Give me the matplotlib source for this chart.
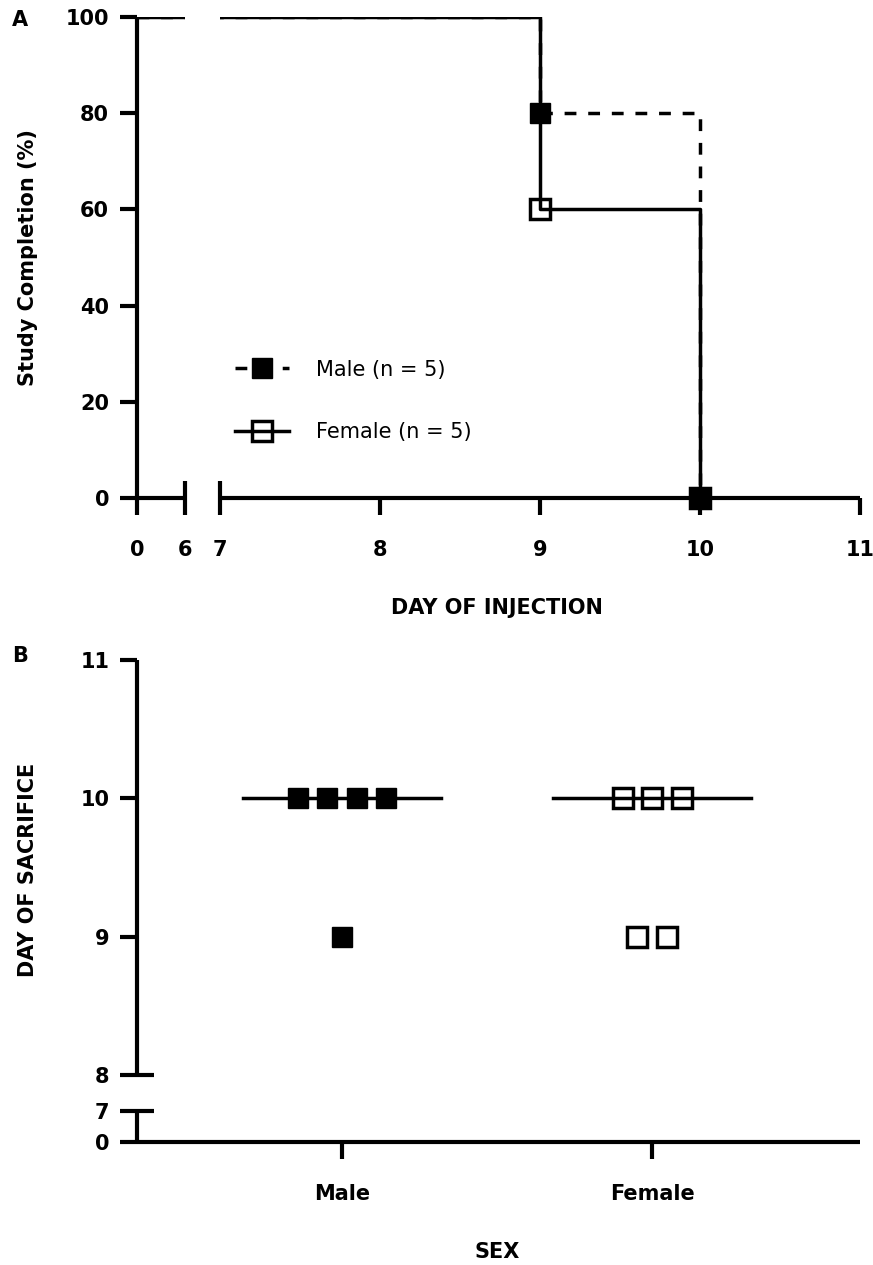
import numpy as np
import matplotlib
matplotlib.use("Agg")
import matplotlib.pyplot as plt
from matplotlib.lines import Line2D

plt.rcParams["font.family"] = ["DejaVu Sans"]

# day of sacrifice for every animal
male_days = [9, 10, 10, 10, 10]
female_days = [9, 9, 10, 10, 10]
groups = ["Male", "Female"]
legend_labels = ["Male (n = 5)", "Female (n = 5)"]

pct_ticks = [0, 20, 40, 60, 80, 100]
inj_ticks_low = [0, 6]
inj_ticks_high = [7, 8, 9, 10, 11]
sac_ticks_low = [0, 7]
sac_ticks_high = [8, 9, 10, 11]

W, H = 873, 1265
LW_AX = 3.0
LW = 2.5
MS = 14
FS = 15


def completion_curve(days):
    """Percent of animals still on study after each event day."""
    days = np.asarray(days)
    events = np.unique(days)
    x = np.concatenate([[0], events])
    y = [100.0] + [100.0 * np.sum(days > d) / len(days) for d in events]
    return x, np.array(y)


def box(left, top, right, bottom):
    return [left / W, 1 - bottom / H, (right - left) / W, (bottom - top) / H]


def style(ax, left=True, bottom=True):
    for s in ("top", "right"):
        ax.spines[s].set_visible(False)
    ax.spines["left"].set_visible(left)
    ax.spines["bottom"].set_visible(bottom)
    for s in ("left", "bottom"):
        ax.spines[s].set_linewidth(LW_AX)
        ax.spines[s].set_capstyle("butt")
    ax.tick_params(which="major", direction="out", length=12, width=LW_AX)
    ax.tick_params(which="minor", direction="in", length=12, width=LW_AX)
    ax.xaxis.remove_overlapping_locs = False
    ax.yaxis.remove_overlapping_locs = False
    if not left:
        ax.tick_params(axis="y", which="both", left=False, labelleft=False)
    if not bottom:
        ax.tick_params(axis="x", which="both", bottom=False, labelbottom=False)
    ax.patch.set_alpha(0)


fig = plt.figure(figsize=(W / 100, H / 100), dpi=100)

# ---- panel A: study completion, broken x axis
mx, my = completion_curve(male_days)
fx, fy = completion_curve(female_days)

axA1 = fig.add_axes(box(137, 17, 185, 498))
axA2 = fig.add_axes(box(220, 17, 860, 498))
style(axA1)
style(axA2, left=False)

for ax in (axA1, axA2):
    ax.step(mx, my, where="post", color="k", lw=LW, ls=(0, (3.4, 3.4)))
    ax.step(fx, fy, where="post", color="k", lw=LW)
    ax.set_ylim(0, 100)
# event markers only fall on the right-hand segment
axA2.plot(fx[1:], fy[1:], "s", ms=MS, mfc="none", mec="k", mew=2.5, clip_on=False)
axA2.plot(mx[1:], my[1:], "s", ms=MS, color="k", clip_on=False)

axA1.set_xlim(0, 6)
axA2.set_xlim(7, 11)
axA1.set_xticks(inj_ticks_low)
axA1.set_xticks([inj_ticks_low[-1]], minor=True)
axA2.set_xticks(inj_ticks_high)
axA2.set_xticks([inj_ticks_high[0]], minor=True)
axA1.set_yticks(pct_ticks)
for ax in (axA1, axA2):
    ax.tick_params(axis="x", which="major", pad=18, labelsize=FS)
    ax.tick_params(axis="y", which="major", pad=8, labelsize=FS)
    for t in ax.get_xticklabels() + ax.get_yticklabels():
        t.set_fontweight("bold")

handles = [
    Line2D([], [], color="k", lw=LW, ls=(0, (3.4, 3.4)), marker="s", ms=MS),
    Line2D([], [], color="k", lw=LW, marker="s", ms=MS, mfc="none", mew=2.5),
]
fig.legend(handles, legend_labels, loc="upper left",
           bbox_to_anchor=(216 / W, 1 - 341 / H), frameon=False,
           fontsize=FS, handlelength=2.6, handletextpad=1.3, labelspacing=2.05)

fig.text(28 / W, 1 - 258 / H, "Study Completion (%)", rotation=90,
         ha="center", va="center", fontsize=FS, fontweight="bold")
fig.text(497 / W, 1 - 608 / H, "DAY OF INJECTION",
         ha="center", va="center", fontsize=FS, fontweight="bold")
fig.text(20 / W, 1 - 20 / H, "A", ha="center", va="center", fontsize=FS, fontweight="bold")

# ---- panel B: day of sacrifice, broken y axis
axB = fig.add_axes(box(137, 660, 860, 1075))
axB0 = fig.add_axes(box(137, 1111, 860, 1142))
style(axB, bottom=False)
style(axB0)

step = 0.095
for i, days in enumerate([male_days, female_days]):
    vals, counts = np.unique(days, return_counts=True)
    for v, n in zip(vals, counts):
        xs = i + (np.arange(n) - (n - 1) / 2) * step
        if i == 0:
            axB.plot(xs, [v] * n, "s", ms=MS, color="k", zorder=3)
        else:
            axB.plot(xs, [v] * n, "s", ms=MS, mfc="none", mec="k", mew=2.5, zorder=3)
    med = np.median(days)
    axB.plot([i - 0.32, i + 0.32], [med, med], color="k", lw=LW, zorder=2)

for ax in (axB, axB0):
    ax.set_xlim(-0.66, 1.67)
axB.set_ylim(8, 11)
axB0.set_ylim(0, 7)
axB.set_yticks(sac_ticks_high)
axB.set_yticks([sac_ticks_high[0]], minor=True)
axB0.set_yticks(sac_ticks_low)
axB0.set_yticks([sac_ticks_low[-1]], minor=True)
axB0.set_xticks(range(len(groups)))
axB0.set_xticklabels(groups)
for ax in (axB, axB0):
    ax.tick_params(axis="y", which="major", pad=8, labelsize=FS)
    ax.tick_params(axis="x", which="major", pad=18, labelsize=FS)
    for t in ax.get_xticklabels() + ax.get_yticklabels():
        t.set_fontweight("bold")

fig.text(28 / W, 1 - 870 / H, "DAY OF SACRIFICE", rotation=90,
         ha="center", va="center", fontsize=FS, fontweight="bold")
fig.text(497 / W, 1 - 1252 / H, "SEX", ha="center", va="center",
         fontsize=FS, fontweight="bold")
fig.text(20 / W, 1 - 656 / H, "B", ha="center", va="center", fontsize=FS, fontweight="bold")

fig.savefig("out.png", dpi=100)
